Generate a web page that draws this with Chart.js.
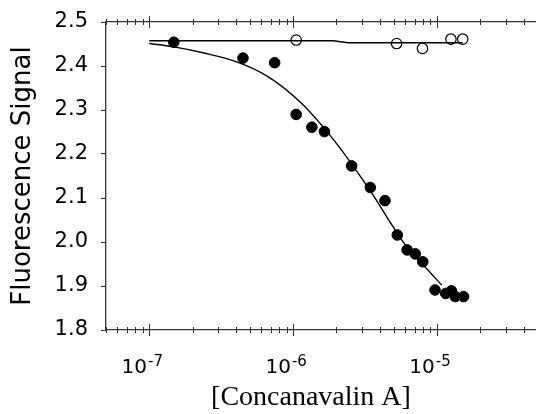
<!DOCTYPE html>
<html>
<head>
<meta charset="utf-8">
<script src="https://cdn.jsdelivr.net/npm/chart.js@4"></script>
<style>
  html, body { margin: 0; padding: 0; background: #fff; overflow: hidden; }
</style>
</head>
<body>
<canvas id="chartbind" width="542" height="414"></canvas>
<script>
// concanavalin A concentration (M) and fluorescence readings
const filledX = [1.48e-7, 4.48e-7, 7.44e-7, 1.05e-6, 1.35e-6, 1.65e-6, 2.55e-6, 3.44e-6, 4.35e-6,
  5.30e-6, 6.20e-6, 7.06e-6, 7.97e-6, 9.69e-6, 1.15e-5, 1.26e-5, 1.34e-5, 1.53e-5];
const filledY = [2.454, 2.418, 2.4075, 2.290, 2.261, 2.251, 2.173, 2.124, 2.094,
  2.016, 1.982, 1.973, 1.955, 1.891, 1.883, 1.889, 1.876, 1.876];

const openX = [1.05e-6, 5.24e-6, 7.93e-6, 1.25e-5, 1.51e-5];
const openY = [2.459, 2.451, 2.440, 2.461, 2.461];

// fitted curves
const fitX = [1e-7, 1.45e-7, 2.4e-7, 4.1e-7, 6.6e-7, 1.12e-6, 1.8e-6, 2.47e-6, 3.59e-6, 4.92e-6, 6.04e-6, 8.28e-6, 1.08e-5];
const fitY = [2.451, 2.444, 2.4295, 2.409, 2.377, 2.318, 2.243, 2.184, 2.107, 2.036, 1.993, 1.943, 1.902];

const openFitX = [1e-7, 1.9e-6, 2.41e-6, 1.51e-5];
const openFitY = [2.4575, 2.4575, 2.453, 2.453];

const yTicks = [1.8, 1.9, 2.0, 2.1, 2.2, 2.3, 2.4, 2.5];
const decades = [-8, -7, -6, -5];
const xMin = 5e-8, xMax = 4.85e-5;

const axisColor = '#333';

function pairs(xs, ys) {
  return xs.map((x, i) => ({ x: x, y: ys[i] }));
}

function isDecade(v) {
  const l = Math.log10(v);
  return Math.abs(l - Math.round(l)) < 1e-9;
}

function logTicks(scale) {
  const t = [];
  decades.forEach(d => {
    for (let m = 1; m <= 9; m++) {
      const v = m * Math.pow(10, d);
      if (v >= xMin * 0.999 && v <= xMax) t.push({ value: v });
    }
  });
  scale.ticks = t;
}

function noPad(h) {
  return s => { s.height = h; s.paddingLeft = 0; s.paddingRight = 0; };
}

// ticks crossing the horizontal axis lines, plus 10^n labels with a raised exponent
const axisMarks = {
  id: 'axisMarks',
  afterDraw(chart) {
    const ctx = chart.ctx;
    ctx.save();
    ctx.strokeStyle = axisColor;
    ctx.lineWidth = 1;
    ['x', 'x2'].forEach(id => {
      const s = chart.scales[id];
      const y0 = id === 'x' ? s.top : s.bottom;
      s.ticks.forEach(t => {
        const px = Math.round(s.getPixelForValue(t.value)) + 0.5;
        const len = isDecade(t.value) ? 6 : 3;
        ctx.beginPath();
        ctx.moveTo(px, y0 - len);
        ctx.lineTo(px, y0 + len);
        ctx.stroke();
      });
    });

    const s = chart.scales.x;
    ctx.fillStyle = '#000';
    ctx.textBaseline = 'alphabetic';
    ctx.textAlign = 'left';
    s.ticks.filter(t => isDecade(t.value)).forEach(t => {
      const px = s.getPixelForValue(t.value);
      const exp = String(Math.round(Math.log10(t.value)));
      ctx.font = '20px "DejaVu Sans"';
      const wBase = ctx.measureText('10').width;
      ctx.font = '15px "DejaVu Sans"';
      const wExp = ctx.measureText(exp).width;
      const x0 = px - 7 - (wBase + 1 + wExp) / 2;
      ctx.font = '20px "DejaVu Sans"';
      ctx.fillText('10', x0, s.top + 43);
      ctx.font = '15px "DejaVu Sans"';
      ctx.fillText(exp, x0 + wBase + 1, s.top + 36);
    });
    ctx.restore();
  }
};

const ctx = document.getElementById('chartbind').getContext('2d');

const chartbind = new Chart(ctx, {
  type: 'scatter',
  data: {
    datasets: [{
      type: 'line',
      data: pairs(fitX, fitY),
      borderColor: '#000',
      borderWidth: 1.4,
      pointRadius: 0,
      cubicInterpolationMode: 'monotone',
      fill: false
    }, {
      type: 'line',
      data: pairs(openFitX, openFitY),
      borderColor: '#000',
      borderWidth: 1.4,
      pointRadius: 0,
      tension: 0,
      fill: false
    }, {
      data: pairs(filledX, filledY),
      backgroundColor: '#000',
      borderColor: '#000',
      borderWidth: 1,
      pointRadius: 5.3
    }, {
      data: pairs(openX, openY),
      backgroundColor: 'rgba(0,0,0,0)',
      borderColor: '#000',
      borderWidth: 1.2,
      pointRadius: 5.2
    }]
  },
  options: {
    responsive: false,
    animation: false,
    layout: { padding: 0 },
    plugins: {
      legend: { display: false },
      tooltip: { enabled: false }
    },
    scales: {
      x: {
        type: 'logarithmic',
        position: 'bottom',
        min: xMin,
        max: xMax,
        afterBuildTicks: logTicks,
        afterFit: noPad(84),
        grid: { display: false, drawTicks: false },
        border: { display: true, color: axisColor, width: 1.3 },
        ticks: { display: false },
        title: {
          display: true,
          text: '[Concanavalin A]\u2002\u2009',
          color: '#000',
          font: { family: 'Liberation Serif', size: 28 },
          padding: { top: 0, bottom: 0 }
        }
      },
      x2: {
        type: 'logarithmic',
        position: 'top',
        min: xMin,
        max: xMax,
        afterBuildTicks: logTicks,
        afterFit: noPad(22),
        grid: { display: false, drawTicks: false },
        border: { display: true, color: axisColor, width: 1.3 },
        ticks: { display: false }
      },
      y: {
        min: 1.8,
        max: 2.5,
        afterBuildTicks: s => { s.ticks = yTicks.map(v => ({ value: v })); },
        afterFit: s => { s.width = 106; s.paddingTop = 0; s.paddingBottom = 0; },
        grid: { drawOnChartArea: false, tickLength: 5, color: axisColor, lineWidth: 1 },
        border: { color: axisColor, width: 1.3 },
        ticks: {
          padding: 13,
          color: '#000',
          font: { family: 'DejaVu Sans', size: 21 },
          callback: v => v.toFixed(1)
        },
        title: {
          display: true,
          text: 'Fluorescence Signal',
          color: '#000',
          font: { family: 'DejaVu Sans', size: 26 },
          padding: { top: 8, bottom: 0 }
        }
      }
    }
  },
  plugins: [axisMarks]
});
</script>
</body>
</html>
